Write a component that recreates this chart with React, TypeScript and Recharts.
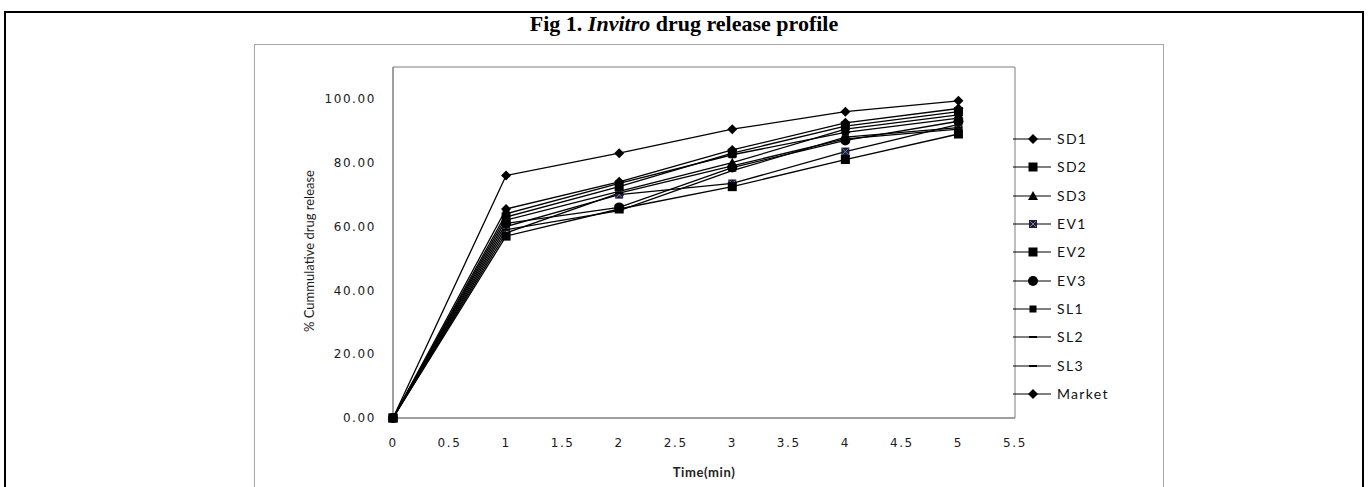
import React from 'react';
import { LineChart, Line, XAxis, YAxis, Legend, ReferenceArea } from 'recharts';

const times = [0, 1, 2, 3, 4, 5];
const seriesNames = ['SD1', 'SD2', 'SD3', 'EV1', 'EV2', 'EV3', 'SL1', 'SL2', 'SL3', 'Market'];
const sd1 = [0, 65.5, 74, 84, 92.5, 97];
const sd2 = [0, 63, 72.5, 83, 91.5, 96];
const sd3 = [0, 62, 71, 80, 90.5, 95];
const ev1 = [0, 60, 70, 73.5, 83.5, 92];
const ev2 = [0, 57, 65.5, 72.5, 81, 89];
const ev3 = [0, 61, 66, 78.5, 87, 93];
const sl1 = [0, 64, 73.5, 82.5, 89.5, 94];
const sl2 = [0, 59, 65, 77.5, 88, 91];
const sl3 = [0, 58, 70.5, 79, 87.5, 90.5];
const market = [0, 76, 83, 90.5, 96, 99.4];
const xTicks = [0, 0.5, 1, 1.5, 2, 2.5, 3, 3.5, 4, 4.5, 5, 5.5];
const yTicks = [0, 20, 40, 60, 80, 100];

const seriesValues = [sd1, sd2, sd3, ev1, ev2, ev3, sl1, sl2, sl3, market];
const markerShapes = ['diamond', 'square', 'triangle', 'squareX', 'square', 'circle', 'squareSmall', 'dash', 'dash', 'diamond'];

const data = times.map((t, i) => {
  const row: any = { t };
  seriesNames.forEach((n, k) => {
    row[n] = seriesValues[k][i];
  });
  return row;
});

function Marker({ shape, cx, cy }: { shape: string; cx: number; cy: number }) {
  switch (shape) {
    case 'diamond':
      return <polygon points={`${cx},${cy - 5} ${cx + 5},${cy} ${cx},${cy + 5} ${cx - 5},${cy}`} fill="#000" />;
    case 'square':
      return <rect x={cx - 4.5} y={cy - 4.5} width={9} height={9} fill="#000" />;
    case 'squareSmall':
      return <rect x={cx - 3.5} y={cy - 3.5} width={7} height={7} fill="#000" />;
    case 'triangle':
      return <polygon points={`${cx},${cy - 5} ${cx + 5},${cy + 4} ${cx - 5},${cy + 4}`} fill="#000" />;
    case 'squareX':
      return (
        <g>
          <rect x={cx - 4} y={cy - 4} width={8} height={8} fill="#1c1c3a" />
          <line x1={cx - 3} y1={cy - 3} x2={cx + 3} y2={cy + 3} stroke="#7a7aa0" strokeWidth={1} />
          <line x1={cx - 3} y1={cy + 3} x2={cx + 3} y2={cy - 3} stroke="#7a7aa0" strokeWidth={1} />
        </g>
      );
    case 'circle':
      return <circle cx={cx} cy={cy} r={5} fill="#000" />;
    case 'dash':
      return <line x1={cx - 4} y1={cy} x2={cx + 4} y2={cy} stroke="#000" strokeWidth={2} />;
    default:
      return null;
  }
}

const renderLegend = () => (
  <div style={{ display: 'flex', flexDirection: 'column' }}>
    {seriesNames.map((n, k) => (
      <div key={n} style={{ height: 28.3, display: 'flex', alignItems: 'center' }}>
        <svg width={40} height={14} style={{ display: 'block' }}>
          <line x1={0} y1={7} x2={38} y2={7} stroke="#000" strokeWidth={1.2} />
          <Marker shape={markerShapes[k]} cx={20} cy={7} />
        </svg>
        <span
          style={{
            fontFamily: 'Lato, sans-serif',
            fontSize: 14,
            letterSpacing: 1.3,
            color: '#111',
            marginLeft: 4,
            lineHeight: '14px',
          }}
        >
          {n}
        </span>
      </div>
    ))}
  </div>
);

const tickStyle = { fontFamily: 'DejaVu Sans, Verdana, sans-serif', fontSize: 12, fill: '#1a1a1a', letterSpacing: 1.6 };

export default function App() {
  return (
    <div style={{ position: 'absolute', left: 0, top: 0, width: 1368, height: 487, overflow: 'hidden', background: '#fff' }}>
      <div
        style={{
          position: 'absolute',
          left: 4,
          top: 11,
          width: 1356,
          height: 520,
          border: '2px solid #000',
        }}
      />
      <div
        style={{
          position: 'absolute',
          left: 0,
          top: 12,
          width: 1368,
          textAlign: 'center',
          fontFamily: '"Liberation Serif", "Times New Roman", serif',
          fontWeight: 'bold',
          fontSize: 22,
          lineHeight: '24px',
          color: '#000',
        }}
      >
        Fig 1. <i>Invitro</i> drug release profile
      </div>
      <div
        style={{
          position: 'absolute',
          left: 254,
          top: 44,
          width: 908,
          height: 500,
          border: '1px solid #a8a8a8',
        }}
      />
      <div style={{ position: 'absolute', left: 0, top: 0 }}>
        <LineChart
          width={1368}
          height={487}
          data={data}
          margin={{ top: 67, right: 353, bottom: 0, left: 300 }}
        >
          <ReferenceArea x1={0} x2={5.5} y1={0} y2={110} fill="none" stroke="#7f7f7f" strokeWidth={1} ifOverflow="visible" />
          <XAxis
            type="number"
            dataKey="t"
            domain={[0, 5.5]}
            ticks={xTicks}
            interval={0}
            height={69}
            tickLine={false}
            tickSize={0}
            tickMargin={20}
            axisLine={{ stroke: '#7f7f7f' }}
            tick={tickStyle}
            label={(props: any) => {
              const vb = props.viewBox;
              return (
                <text
                  x={vb.x + vb.width / 2}
                  y={474}
                  textAnchor="middle"
                  dominantBaseline="middle"
                  style={{ fontFamily: 'Lato, sans-serif', fontSize: 13, fontWeight: 'bold', fill: '#222', letterSpacing: 0.6 }}
                >
                  Time(min)
                </text>
              );
            }}
          />
          <YAxis
            type="number"
            domain={[0, 110]}
            ticks={yTicks}
            interval={0}
            width={93}
            tickLine={false}
            tickSize={0}
            tickMargin={17}
            axisLine={{ stroke: '#7f7f7f' }}
            tick={tickStyle}
            tickFormatter={(v: number) => v.toFixed(2)}
            label={(props: any) => {
              const vb = props.viewBox;
              const x = vb.x + 11;
              const y = 251;
              return (
                <text
                  x={x}
                  y={y}
                  transform={`rotate(-90 ${x} ${y})`}
                  textAnchor="middle"
                  dominantBaseline="middle"
                  style={{ fontFamily: 'Lato, sans-serif', fontSize: 13, fill: '#1a1a1a' }}
                >
                  % Cummulative drug release
                </text>
              );
            }}
          />
          <Legend
            layout="vertical"
            align="center"
            verticalAlign="middle"
            content={renderLegend}
            wrapperStyle={{ left: 1013, top: 125, width: 130 }}
          />
          {seriesNames.map((n, k) => (
            <Line
              key={n}
              type="linear"
              dataKey={n}
              stroke="#000"
              strokeWidth={1.3}
              isAnimationActive={false}
              dot={(p: any) => <Marker key={`${n}-${p.index}`} shape={markerShapes[k]} cx={p.cx} cy={p.cy} />}
              activeDot={false}
            />
          ))}
        </LineChart>
      </div>
    </div>
  );
}
